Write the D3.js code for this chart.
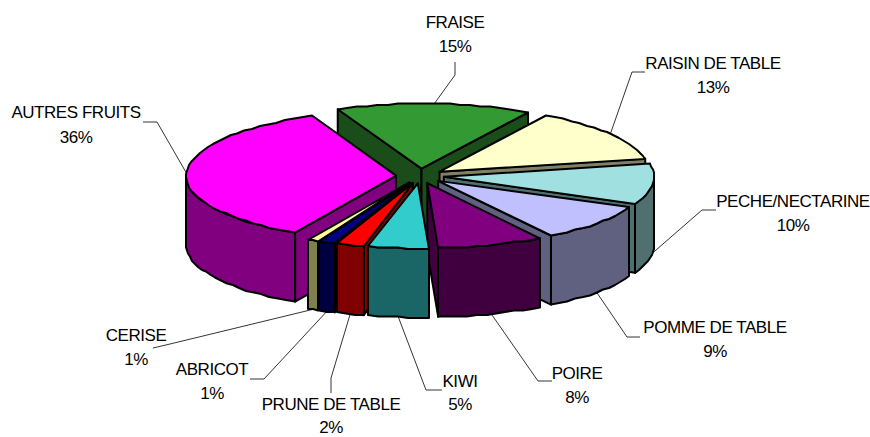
<!DOCTYPE html>
<html><head><meta charset="utf-8">
<script src="https://cdn.jsdelivr.net/npm/d3@7/dist/d3.min.js"></script>
<style>html,body{margin:0;padding:0;background:#fff}svg{display:block}
text{font-family:"Liberation Sans",Arial,sans-serif;font-size:17px;letter-spacing:-0.45px;fill:#000}</style>
</head><body><svg id="c" width="870" height="437"></svg>
<script>
const categories=["FRAISE","RAISIN DE TABLE","PECHE/NECTARINE","POMME DE TABLE","POIRE","KIWI","PRUNE DE TABLE","ABRICOT","CERISE","AUTRES FRUITS"];
const values=[15.0,13.3,10,9.2,8.2,4.6,2.1,1.3,0.8,35.5];
const percentLabels=["15%","13%","10%","9%","8%","5%","2%","1%","1%","36%"];
const topColors=["#339933","#ffffcc","#a0e0e0","#c0c0ff","#800080","#33cccc","#ff0000","#000080","#ffff99","#ff00ff"];
const sideColors=["#1a4d1a","#808066","#507070","#606080","#400040","#1a6666","#800000","#000040","#80804d","#800080"];
// label layout: text centre x, first-line baseline y, line gap, then leader elbow points
const labelX=[455,713,793,715,577,460,331,212,136,76];
const labelY=[28,69,207,333,379,387,410,375,341,118];
const labelGap=[24,24,24,24,24,23,22.5,24,24,25];
const leaderStart=[[455,62],[645,72],[716,210],[640,337],[552,381],[442,390],[331,393],[250,379],[153,348],[143,122]];
const leaderElbow=[[455,75],[632,72],[702,210],[627,337],[538,381],[426,390],[331,378],[264,379],[170,344],[157,122]];
const paintOrder=[0,1,2,9,3,4,8,7,6,5];

const CX=420,CY=176,RX=210,RY=65,DEPTH=69,EXPLODE=24,START=-23.5*Math.PI/180;
const x=d3.scaleLinear().domain([-1,1]).range([-RX,RX]);
const y=d3.scaleLinear().domain([-1,1]).range([-RY,RY]);
const pie=d3.pie().sort(null).startAngle(START).endAngle(START+2*Math.PI);
const arcs=pie(values);
const svg=d3.select("#c");
const line=d3.line().x(d=>d[0]).y(d=>d[1]);

function apex(a){const m=(a.startAngle+a.endAngle)/2;
  return [CX+x(Math.sin(m)*EXPLODE/RX),CY+y(-Math.cos(m)*EXPLODE/RX)];}
function rim(a,t,dz=0){const p=apex(a);return [p[0]+x(Math.sin(t)),p[1]+y(-Math.cos(t))+dz];}
function rimStep(a,t,dz=0){const q=rim(a,t,dz);return [Math.round(q[0]),Math.round(q[1]/1.5)*1.5];}
function sample(t0,t1){const n=Math.max(2,Math.ceil((t1-t0)/0.05));return d3.range(n+1).map(i=>t0+(t1-t0)*i/n);}
function face(fill,pts){svg.append("path").attr("d",line(pts)+"Z").attr("fill",fill)
  .attr("stroke","#000").attr("stroke-width",2).attr("stroke-linejoin","round");}

paintOrder.forEach(i=>{
  const a=arcs[i],p=apex(a),s=sideColors[i],t0=a.startAngle,t1=a.endAngle;
  const pd=[p[0],p[1]+DEPTH];
  if(Math.sin(t0)<0){face(s,[p,rim(a,t0),rim(a,t0,DEPTH),pd]);}
  if(Math.sin(t1)>0){face(s,[p,rim(a,t1),rim(a,t1,DEPTH),pd]);}
  const lo=Math.max(t0,Math.PI/2),hi=Math.min(t1,3*Math.PI/2);
  if(hi>lo){const ts=sample(lo,hi);
    face(s,ts.map(t=>rimStep(a,t)).concat(ts.slice().reverse().map(t=>rimStep(a,t,DEPTH))));}
  face(topColors[i],[p].concat(sample(t0,t1).map(t=>rimStep(a,t))));
});

categories.forEach((c,i)=>{
  const a=arcs[i],m=(a.startAngle+a.endAngle)/2;
  const end=rim(a,m,Math.cos(m)<0?DEPTH:0);
  svg.append("path").attr("d",line([leaderStart[i],leaderElbow[i],end])).attr("fill","none")
    .attr("stroke","#000").attr("stroke-width",0.8);
  const t=svg.append("text").attr("text-anchor","middle");
  t.append("tspan").attr("x",labelX[i]).attr("y",labelY[i]).text(c);
  t.append("tspan").attr("x",labelX[i]).attr("y",labelY[i]+labelGap[i]).text(percentLabels[i]);
});
</script></body></html>
